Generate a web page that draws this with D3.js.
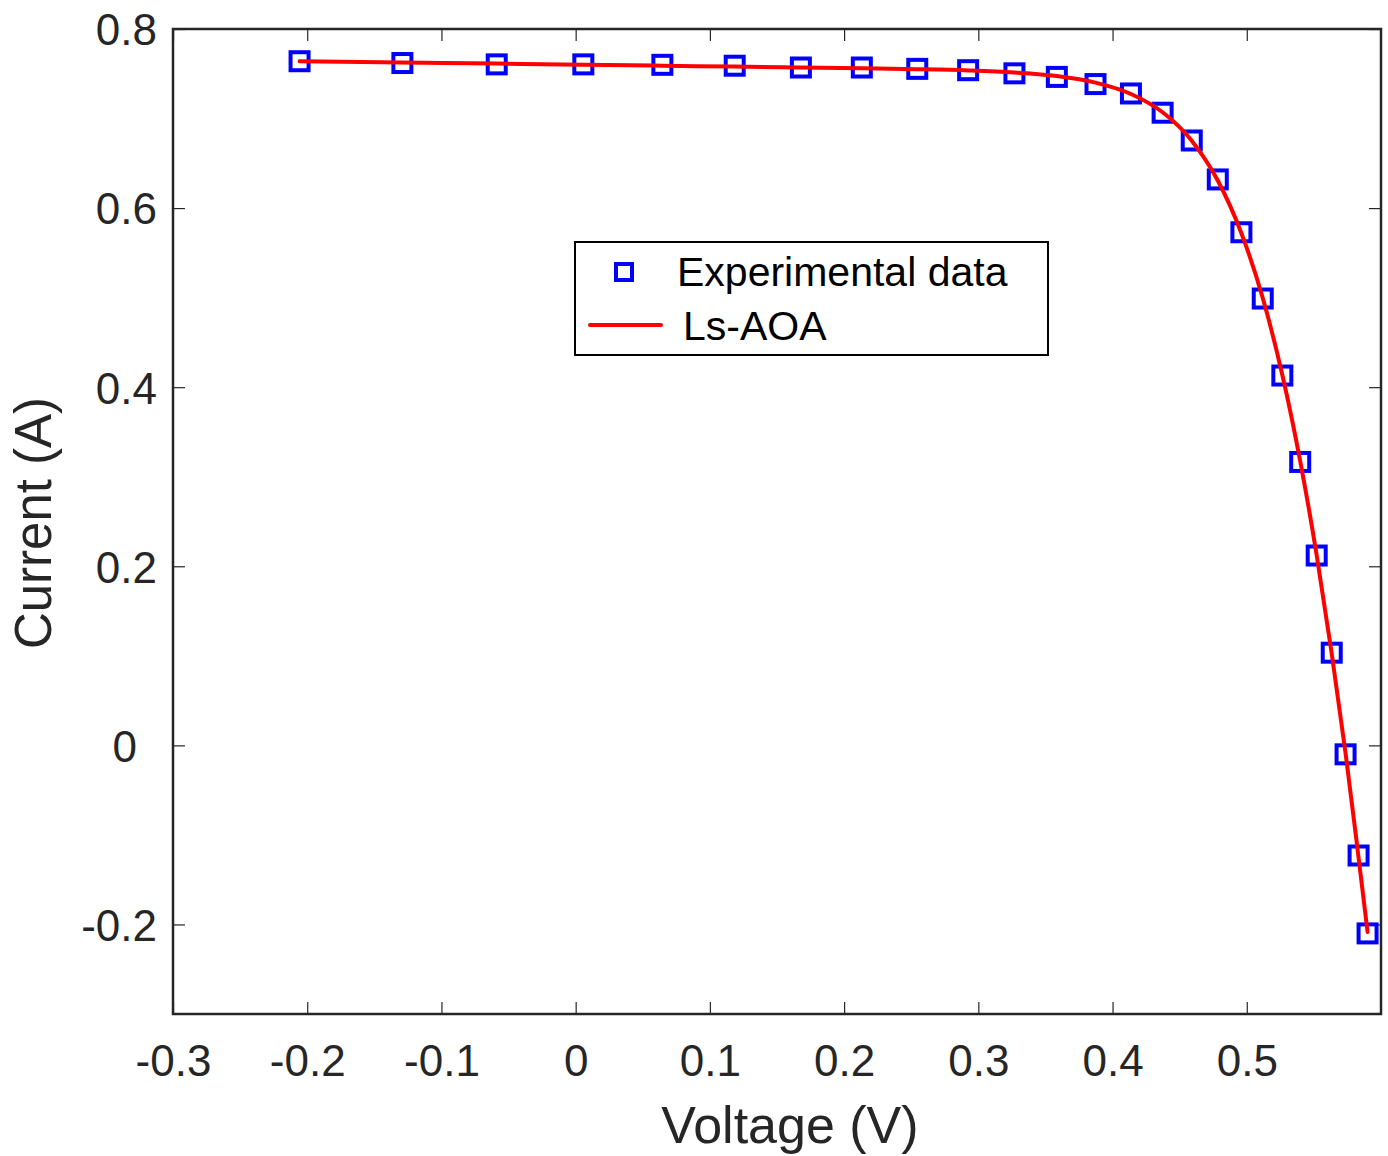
<!DOCTYPE html>
<html>
<head>
<meta charset="utf-8">
<script src="https://cdn.jsdelivr.net/npm/d3@7"></script>
<style>
  body { margin: 0; background: #fff; }
  svg { font-family: "Liberation Sans", Arial, sans-serif; }
</style>
</head>
<body>
<script>
// Measured voltage (V)
const voltage = [-0.2057, -0.1291, -0.0588, 0.0057, 0.0646, 0.1185, 0.1678, 0.2132, 0.2545, 0.2924,
    0.3269, 0.3585, 0.3873, 0.4137, 0.4373, 0.4590, 0.4784, 0.4960, 0.5119, 0.5265,
    0.5398, 0.5521, 0.5633, 0.5736, 0.5833, 0.5900];
// Measured current (A)
const currentExp = [0.7640, 0.7620, 0.7605, 0.7605, 0.7600, 0.7590, 0.7570, 0.7570, 0.7555, 0.7540,
    0.7505, 0.7465, 0.7385, 0.7280, 0.7065, 0.6755, 0.6320, 0.5730, 0.4990, 0.4130,
    0.3165, 0.2120, 0.1035, -0.0100, -0.1230, -0.2100];
// Ls-AOA model current (A)
const currentFit = [0.7641, 0.7627, 0.7614, 0.7601, 0.7590, 0.7580, 0.7571, 0.7561, 0.7551, 0.7537,
    0.7514, 0.7474, 0.7401, 0.7274, 0.7070, 0.6753, 0.6308, 0.5719, 0.4996, 0.4136,
    0.3175, 0.2122, 0.1023, -0.0087, -0.1255, -0.2085];

const xTicks = [-0.3, -0.2, -0.1, 0, 0.1, 0.2, 0.3, 0.4, 0.5];
const yTicks = [-0.2, 0, 0.2, 0.4, 0.6, 0.8];

const margin = {top: 29, right: 7, bottom: 142, left: 173};
const W = 1388, H = 1156;
const width = W - margin.left - margin.right;
const height = H - margin.top - margin.bottom;

const svg = d3.select("body").append("svg")
    .attr("width", W)
    .attr("height", H);

const g = svg.append("g")
    .attr("transform", "translate(" + margin.left + "," + margin.top + ")");

const x = d3.scaleLinear().domain([-0.3, 0.6]).range([0, width]);
const y = d3.scaleLinear().domain([-0.3, 0.8]).range([height, 0]);

const axisColor = "#262626";
// plain hyphen for negatives, like the original
const fmt = d => d === 0 ? "0" : d.toFixed(1);

// bottom axis (ticks inward)
const xAxis = g.append("g")
    .attr("transform", "translate(0," + height + ")")
    .call(d3.axisBottom(x).tickValues(xTicks).tickSize(-12).tickPadding(30).tickFormat(fmt));
// top ticks
const xTop = g.append("g")
    .call(d3.axisTop(x).tickValues(xTicks).tickSize(-12).tickFormat(""));
// left axis
const yAxis = g.append("g")
    .call(d3.axisLeft(y).tickValues(yTicks).tickSize(-12).tickPadding(16).tickFormat(fmt));
// right ticks
const yRight = g.append("g")
    .attr("transform", "translate(" + width + ",0)")
    .call(d3.axisRight(y).tickValues(yTicks).tickSize(-12).tickFormat(""));

[xAxis, xTop, yAxis, yRight].forEach(a => {
    a.select(".domain").remove();
    a.selectAll(".tick line").attr("stroke", axisColor).attr("stroke-width", 1.2);
    a.selectAll(".tick text").attr("fill", axisColor).style("font-size", "44px");
});
yAxis.selectAll(".tick text").attr("dy", "0.36em");
// the "0" label sits a bit further left in the original
yAxis.selectAll(".tick text").filter(d => d === 0).attr("dx", "-20");
xAxis.selectAll(".tick text").attr("dy", "0.72em");

// frame
g.append("rect")
    .attr("x", 0).attr("y", 0)
    .attr("width", width).attr("height", height)
    .attr("fill", "none")
    .attr("stroke", axisColor)
    .attr("stroke-width", 2.5);

// experimental markers
const ms = 18;
g.selectAll(".pt")
    .data(voltage)
    .enter().append("rect")
    .attr("class", "pt")
    .attr("x", (d, i) => x(d) - ms / 2)
    .attr("y", (d, i) => y(currentExp[i]) - ms / 2)
    .attr("width", ms)
    .attr("height", ms)
    .attr("fill", "none")
    .attr("stroke", "#0000ff")
    .attr("stroke-width", 4);

// model line
const line = d3.line()
    .x(d => x(d[0]))
    .y(d => y(d[1]))
    .curve(d3.curveMonotoneX);

g.append("path")
    .datum(voltage.map((v, i) => [v, currentFit[i]]))
    .attr("d", line)
    .attr("fill", "none")
    .attr("stroke", "#ff0000")
    .attr("stroke-width", 4)
    .attr("stroke-linejoin", "round")
    .attr("stroke-linecap", "round");

// axis titles
svg.append("text")
    .attr("x", 790)
    .attr("y", 1143)
    .attr("text-anchor", "middle")
    .attr("fill", axisColor)
    .style("font-size", "52px")
    .text("Voltage (V)");

svg.append("text")
    .attr("transform", "rotate(-90)")
    .attr("x", -523)
    .attr("y", 51)
    .attr("text-anchor", "middle")
    .attr("fill", axisColor)
    .style("font-size", "51px")
    .text("Current (A)");

// legend
const legend = svg.append("g").attr("transform", "translate(575,242)");
legend.append("rect")
    .attr("width", 473).attr("height", 113)
    .attr("fill", "#fff")
    .attr("stroke", "#000")
    .attr("stroke-width", 2);
legend.append("rect")
    .attr("x", 49 - 8).attr("y", 30 - 8)
    .attr("width", 16).attr("height", 16)
    .attr("fill", "none")
    .attr("stroke", "#0000ff")
    .attr("stroke-width", 4);
legend.append("text")
    .attr("x", 102).attr("y", 44)
    .style("font-size", "41px")
    .attr("fill", "#000")
    .text("Experimental data");
legend.append("line")
    .attr("x1", 15).attr("x2", 86)
    .attr("y1", 83).attr("y2", 83)
    .attr("stroke", "#ff0000")
    .attr("stroke-width", 4)
    .attr("stroke-linecap", "round");
legend.append("text")
    .attr("x", 108).attr("y", 98)
    .style("font-size", "41px")
    .attr("fill", "#000")
    .text("Ls-AOA");
</script>
</body>
</html>
